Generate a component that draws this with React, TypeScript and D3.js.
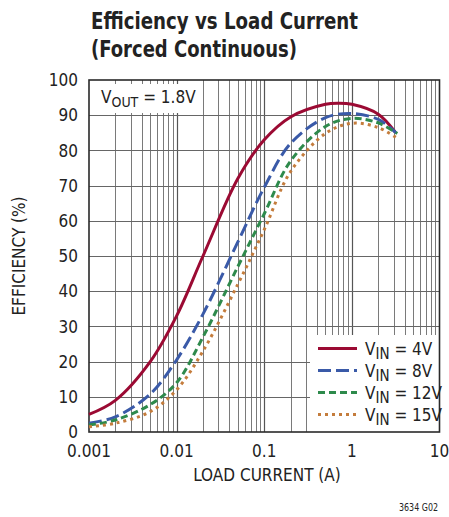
import React, { useEffect, useRef } from 'react';
import * as d3 from 'd3';

// load current (A) vs efficiency (%)
const vin4V: [number, number][] = [
  [0.001, 5], [0.002, 9], [0.005, 20], [0.01, 33], [0.02, 50], [0.05, 72],
  [0.1, 83], [0.2, 89.5], [0.5, 93.1], [0.7, 93.4], [1, 93.1], [2, 90.3], [3.1, 85.3],
];
const vin8V: [number, number][] = [
  [0.001, 2.5], [0.002, 4.3], [0.005, 10.8], [0.01, 20.5], [0.02, 33.5], [0.05, 54],
  [0.1, 69.5], [0.2, 82], [0.5, 89.3], [1, 90.5], [2, 88.8], [3.2, 85],
];
const vin12V: [number, number][] = [
  [0.001, 2], [0.002, 3.4], [0.005, 7.8], [0.01, 14], [0.02, 27], [0.05, 47],
  [0.1, 62], [0.2, 77], [0.5, 86.8], [1, 89.1], [2, 87.8], [3.3, 84.8],
];
const vin15V: [number, number][] = [
  [0.001, 1.5], [0.002, 2.5], [0.005, 5.8], [0.01, 12], [0.02, 23], [0.05, 42],
  [0.1, 57.5], [0.2, 74], [0.5, 84.8], [1, 87.7], [2, 86.5], [3.3, 83.4],
];

const series = [
  { label: '4V', data: vin4V, color: '#9b0a33', dash: null },
  { label: '8V', data: vin8V, color: '#3a5aa8', dash: '13,5' },
  { label: '12V', data: vin12V, color: '#2e8a4c', dash: '7,4' },
  { label: '15V', data: vin15V, color: '#c47c3c', dash: '3,4' },
];

const xTicks = [0.001, 0.01, 0.1, 1, 10];
const xTickLabels = ['0.001', '0.01', '0.1', '1', '10'];
const yTicks = [0, 10, 20, 30, 40, 50, 60, 70, 80, 90, 100];

const FONT = "'DejaVu Sans Condensed', 'Liberation Sans', sans-serif";

export default function App() {
  const svgRef = useRef<SVGSVGElement>(null);

  useEffect(() => {
    if (!svgRef.current) return;
    const svg = d3.select(svgRef.current);
    svg.selectAll('*').remove();

    const left = 89, right = 439.5, top = 80, bottom = 432;

    const x = d3.scaleLog().domain([0.001, 10]).range([left, right]);
    const y = d3.scaleLinear().domain([0, 100]).range([bottom, top]);

    svg.append('rect').attr('width', 449).attr('height', 517).attr('fill', '#fff');

    // title, squeezed to the condensed look of the original
    const titleLine = (txt: string, ty: number, len: number) =>
      svg.append('text')
        .attr('x', 91)
        .attr('y', ty)
        .attr('font-family', FONT)
        .attr('font-weight', 'bold')
        .attr('font-size', 23)
        .attr('fill', '#222')
        .attr('textLength', len)
        .attr('lengthAdjust', 'spacingAndGlyphs')
        .text(txt);
    titleLine('Efficiency vs Load Current', 29, 267);
    titleLine('(Forced Continuous)', 57, 206);

    const grid = svg.append('g');

    // vertical log grid
    const minor: number[] = [];
    for (let d = 0.001; d < 9; d *= 10) {
      for (let k = 2; k <= 9; k++) minor.push(d * k);
    }
    grid.selectAll('.vminor')
      .data(minor)
      .enter()
      .append('line')
      .attr('x1', d => Math.round(x(d)) + 0.5)
      .attr('x2', d => Math.round(x(d)) + 0.5)
      .attr('y1', top)
      .attr('y2', bottom)
      .attr('stroke', '#7a7a7a')
      .attr('stroke-width', 1);

    grid.selectAll('.vmajor')
      .data(xTicks.slice(1, -1))
      .enter()
      .append('line')
      .attr('x1', d => Math.round(x(d)) + 0.5)
      .attr('x2', d => Math.round(x(d)) + 0.5)
      .attr('y1', top)
      .attr('y2', bottom)
      .attr('stroke', '#555')
      .attr('stroke-width', 1.2);

    grid.selectAll('.hline')
      .data(yTicks.slice(1, -1))
      .enter()
      .append('line')
      .attr('x1', left)
      .attr('x2', right)
      .attr('y1', d => Math.round(y(d)) + 0.5)
      .attr('y2', d => Math.round(y(d)) + 0.5)
      .attr('stroke', '#666')
      .attr('stroke-width', 1.2);

    // white boxes behind the annotations
    svg.append('rect')
      .attr('x', left + 1).attr('y', 84)
      .attr('width', 113).attr('height', 29)
      .attr('fill', '#fff');
    svg.append('rect')
      .attr('x', 310).attr('y', 335)
      .attr('width', right - 310).attr('height', bottom - 335)
      .attr('fill', '#fff');

    // frame
    svg.append('rect')
      .attr('x', left).attr('y', top)
      .attr('width', right - left).attr('height', bottom - top)
      .attr('fill', 'none')
      .attr('stroke', '#2a2a2a')
      .attr('stroke-width', 1.6);

    // curves
    const line = d3.line<[number, number]>()
      .x(d => x(d[0]))
      .y(d => y(d[1]))
      .curve(d3.curveCatmullRom.alpha(0.5));

    series.forEach(s => {
      svg.append('path')
        .attr('d', line(s.data) || '')
        .attr('fill', 'none')
        .attr('stroke', s.color)
        .attr('stroke-width', 3)
        .attr('stroke-dasharray', s.dash)
        .attr('stroke-linecap', 'butt');
    });

    // tick labels
    svg.selectAll('.ytick')
      .data(yTicks)
      .enter()
      .append('text')
      .attr('x', 78)
      .attr('y', d => y(d))
      .attr('dy', '0.36em')
      .attr('text-anchor', 'end')
      .attr('font-family', FONT)
      .attr('font-size', 17)
      .attr('fill', '#222')
      .text(d => d);

    svg.selectAll('.xtick')
      .data(xTicks)
      .enter()
      .append('text')
      .attr('x', d => x(d))
      .attr('y', 457)
      .attr('text-anchor', 'middle')
      .attr('font-family', FONT)
      .attr('font-size', 17)
      .attr('fill', '#222')
      .text((d, i) => xTickLabels[i]);

    svg.append('text')
      .attr('x', 267)
      .attr('y', 481)
      .attr('text-anchor', 'middle')
      .attr('font-family', FONT)
      .attr('font-size', 17)
      .attr('fill', '#222')
      .text('LOAD CURRENT (A)');

    svg.append('text')
      .attr('transform', 'translate(25,256) rotate(-90)')
      .attr('text-anchor', 'middle')
      .attr('font-family', FONT)
      .attr('font-size', 17)
      .attr('fill', '#222')
      .text('EFFICIENCY (%)');

    // VOUT note
    const vout = svg.append('text')
      .attr('x', 101)
      .attr('y', 103)
      .attr('font-family', FONT)
      .attr('font-size', 17)
      .attr('fill', '#222');
    vout.append('tspan').text('V');
    vout.append('tspan').attr('font-size', 14).attr('dy', 4).text('OUT');
    vout.append('tspan').attr('dy', -4).text(' = 1.8V');

    // legend
    series.forEach((s, i) => {
      const ly = 348.5 + i * 22;
      svg.append('line')
        .attr('x1', 318).attr('x2', 357)
        .attr('y1', ly).attr('y2', ly)
        .attr('stroke', s.color)
        .attr('stroke-width', 3)
        .attr('stroke-dasharray', s.dash);
      const t = svg.append('text')
        .attr('x', 365)
        .attr('y', ly + 6)
        .attr('font-family', FONT)
        .attr('font-size', 17)
        .attr('fill', '#222');
      t.append('tspan').text('V');
      t.append('tspan').attr('font-size', 15).attr('dy', 4).text('IN');
      t.append('tspan').attr('dy', -4).text(` = ${s.label}`);
    });

    svg.append('text')
      .attr('x', 399)
      .attr('y', 511)
      .attr('font-family', FONT)
      .attr('font-size', 10)
      .attr('fill', '#222')
      .attr('textLength', 39)
      .attr('lengthAdjust', 'spacingAndGlyphs')
      .text('3634 G02');
  }, []);

  return (
    <div style={{ position: 'absolute', left: 0, top: 0 }}>
      <svg ref={svgRef} width={449} height={517} style={{ display: 'block' }} />
    </div>
  );
}
